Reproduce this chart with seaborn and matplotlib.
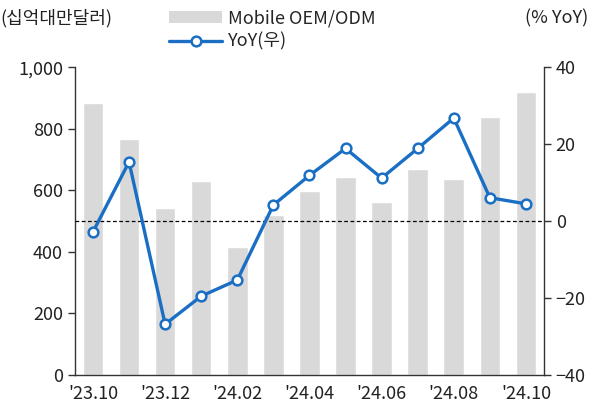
import matplotlib
matplotlib.use("Agg")
import matplotlib.pyplot as plt
import seaborn as sns
import numpy as np
import pandas as pd
from matplotlib.lines import Line2D
from matplotlib.patches import Patch
from matplotlib.ticker import FuncFormatter

months = ["'23.10", "'23.11", "'23.12", "'24.01", "'24.02", "'24.03", "'24.04",
          "'24.05", "'24.06", "'24.07", "'24.08", "'24.09", "'24.10"]
revenue = [883, 766, 543, 630, 417, 521, 599, 642, 561, 668, 636, 839, 921]
yoy = [-2.8, 15.4, -26.8, -19.5, -15.3, 4.2, 11.9, 18.9, 11.2, 18.9, 26.8, 6.1, 4.5]

sns.set_style("white")
plt.rcParams['font.family'] = ['Noto Sans CJK KR', 'DejaVu Sans']

BAR = "#d9d9d9"
BLUE = "#1a6fc4"
FS = 13

fig = plt.figure(figsize=(5.9, 4.07), dpi=100)
ax = fig.add_axes([0.127, 0.0786, 0.795, 0.756])

df = pd.DataFrame({"month": months, "revenue": revenue, "idx": np.arange(len(months)), "yoy": yoy})
sns.barplot(data=df, x="month", y="revenue", color=BAR, width=0.57, ax=ax, saturation=1)
ax.set_xlim(-0.5, len(months) - 0.5)
ax.set_ylim(0, 1000)
ax.set_yticks(range(0, 1001, 200))
ax.yaxis.set_major_formatter(FuncFormatter(lambda v, p: f"{int(v):,}"))
ax.set_xlabel("")
ax.set_ylabel("")

label_pos = list(range(0, len(months), 2))
ax.set_xticks(label_pos)
ax.set_xticklabels([months[i] for i in label_pos], fontsize=FS)
ax.set_xticks([i + 0.5 for i in range(-1, len(months) - 1, 2)], minor=True)
ax.tick_params(axis='x', which='major', length=0, pad=7.5)
ax.tick_params(axis='x', which='minor', length=5, width=1, color="#333333", direction='out')
ax.tick_params(axis='y', which='major', length=5, width=1, color="#333333", labelsize=FS, direction='out', left=True)

ax2 = ax.twinx()
ax2.axhline(0, color="black", ls=(0, (3, 2)), lw=0.9, zorder=1)
sns.lineplot(data=df, x="idx", y="yoy", ax=ax2, color=BLUE, lw=2.4, marker="o",
             markersize=7, markerfacecolor="white", markeredgecolor=BLUE,
             markeredgewidth=1.8, zorder=3)
ax2.set_ylim(-40, 40)
ax2.set_yticks(range(-40, 41, 20))
ax2.set_xlim(-0.5, len(months) - 0.5)
ax2.set_ylabel("")
ax2.set_xlabel("")
ax2.tick_params(axis='y', length=5, width=1, color="#333333", labelsize=FS, direction='out', right=True)

for a in (ax, ax2):
    a.spines['top'].set_visible(False)
    for s in ('left', 'right', 'bottom'):
        a.spines[s].set_color("#333333")
        a.spines[s].set_linewidth(1)
ax.spines['right'].set_visible(False)
ax2.spines['left'].set_visible(False)
ax2.spines['bottom'].set_visible(False)
for lab in ax.get_xticklabels() + ax.get_yticklabels() + ax2.get_yticklabels():
    lab.set_color("#222222")

handles = [Patch(facecolor=BAR, edgecolor='none', label="Mobile OEM/ODM"),
           Line2D([0], [0], color=BLUE, lw=2.4, marker="o", markersize=7,
                  markerfacecolor="white", markeredgecolor=BLUE, markeredgewidth=1.8, label="YoY(우)")]
fig.legend(handles=handles, loc="upper left", bbox_to_anchor=(0.275, 0.995), frameon=False,
           fontsize=FS, handlelength=2.9, handleheight=0.7, handletextpad=0.35, labelspacing=0.3,
           borderaxespad=0)

fig.text(0.0, 0.955, "(십억대만달러)", fontsize=FS, ha="left", va="center", color="#222222")
fig.text(0.997, 0.955, "(% YoY)", fontsize=FS, ha="right", va="center", color="#222222")

fig.savefig("out.png", dpi=100)
